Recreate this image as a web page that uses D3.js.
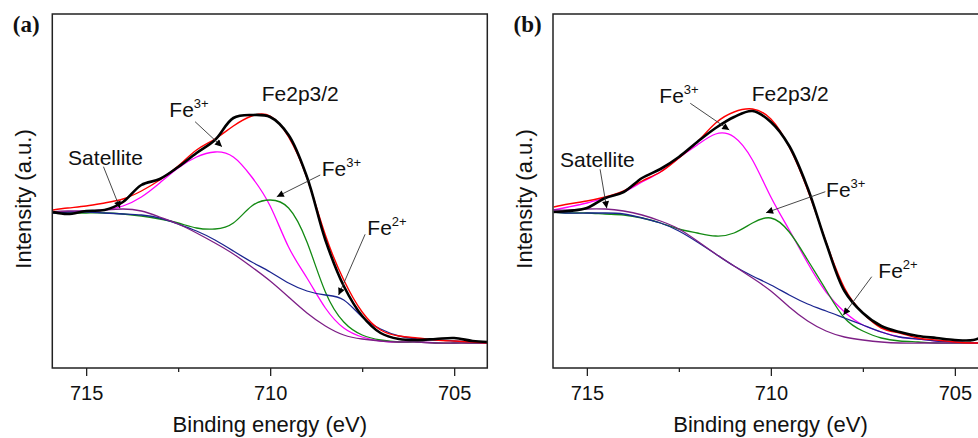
<!DOCTYPE html>
<html>
<head>
<meta charset="utf-8">
<script src="https://cdn.jsdelivr.net/npm/d3@7"></script>
<style>
  body { margin: 0; background: #fff; }
  text { font-family: "Liberation Sans", Arial, sans-serif; fill: #111; }
</style>
</head>
<body>
<script>
// binding energies (eV) the curves were read at
const energy = [715.9, 715.5, 715, 714.5, 714, 713.5, 713, 712.5, 712, 711.5, 711, 710.5, 710,
                709.5, 709, 708.5, 708, 707.5, 707, 706.5, 706, 705.5, 705, 704.5, 704.1];

// panel (a)
const rawA  = [131, 129, 132, 133, 141, 158, 164, 176, 190, 203, 225, 228, 226, 208, 166, 103, 57, 27, 10, 4, 3, 4, 5, 2, 1];
const fitA  = [133, 135, 137, 140, 144, 152, 163, 177, 193, 204, 217, 227, 227, 206, 165, 108, 63, 31, 13, 7, 5, 3, 2, 1, 0];
const fe3aA = [130, 131, 132, 133, 137, 146, 160, 175, 186, 191, 186, 166, 137, 96, 65, 35, 15, 6, 2, 1, 1, 0, 0, 0, 0];
const fe3bA = [130, 130, 130, 130, 129, 127, 124, 120, 115, 114, 120, 137, 143, 135, 101, 51, 21, 8, 3, 1, 1, 0, 0, 0, 0];
const fe2A  = [130, 131, 131, 130, 129, 128, 125, 119, 112, 103, 92, 81, 71, 60, 52, 48, 43, 26, 14, 7, 4, 3, 2, 1, 0];
const satA  = [131, 132, 132, 133, 134, 132, 126, 119, 110, 100, 89, 76, 62, 46, 30, 17, 8, 4, 2, 1, 1, 0, 0, 0, 0];

// panel (b)
const rawB  = [131, 132, 135, 145, 151, 165, 174, 186, 201, 215, 226, 232, 221, 197, 155, 100, 52, 30, 17, 11, 7, 5, 3, 3, 9];
const fitB  = [136, 139, 142, 146, 152, 162, 171, 185, 201, 220, 231, 234, 224, 196, 153, 101, 55, 30, 15, 10, 5, 3, 1, 0, 0];
const fe3aB = [133, 136, 140, 145, 151, 161, 171, 185, 198, 209, 206, 183, 146, 113, 80, 51, 31, 18, 11, 6, 4, 2, 1, 0, 0];
const fe3bB = [131, 130, 130, 129, 128, 125, 120, 114, 110, 107, 110, 120, 125, 111, 83, 53, 25, 12, 5, 2, 1, 0, 0, 0, 0];
const fe2B  = [131, 130, 130, 130, 129, 125, 120, 112, 101, 89, 77, 67, 58, 48, 39, 32, 25, 18, 11, 6, 4, 2, 1, 0, 0];
const satB  = [133, 133, 134, 134, 132, 128, 122, 114, 102, 89, 77, 65, 52, 36, 22, 12, 6, 3, 1, 0, 0, 0, 0, 0, 0];

const majorTicks = [715, 710, 705];
const minorTicks = [712.5, 707.5];

const W = 435, H = 354;
const svg = d3.select("body").append("svg")
  .attr("width", 978)
  .attr("height", 438);

function drawPanel(left, id, label, series, notes) {
  const x = d3.scaleLinear().domain([715.92, 704.1]).range([0, W]);
  const y = d3.scaleLinear().domain([-25, 329]).range([H, 0]);

  const g = svg.append("g").attr("transform", `translate(${left},14)`);

  const defs = g.append("defs");
  defs.append("clipPath").attr("id", "clip" + id)
    .append("rect").attr("width", W).attr("height", H);
  defs.append("marker")
    .attr("id", "arr" + id)
    .attr("viewBox", "0 0 10 10")
    .attr("refX", 10).attr("refY", 5)
    .attr("markerWidth", 9).attr("markerHeight", 7)
    .attr("markerUnits", "userSpaceOnUse")
    .attr("orient", "auto")
    .append("path").attr("d", "M0,0L10,5L0,10Z").attr("fill", "#000");

  // smooth spline for the fitted curves, looser one for the measured trace
  const line = (curve) => d3.line()
    .x((d, i) => x(energy[i]))
    .y(d => y(d))
    .curve(curve);

  const plot = g.append("g").attr("clip-path", `url(#clip${id})`);
  series.forEach(s => {
    const curve = s.raw ? d3.curveCatmullRom.alpha(0.5) : d3.curveNatural;
    plot.append("path")
      .attr("d", line(curve)(s.values))
      .attr("fill", "none")
      .attr("stroke", s.color)
      .attr("stroke-width", s.width)
      .attr("stroke-linejoin", "round");
  });

  // x axis, major + minor ticks
  const ax = g.append("g").attr("transform", `translate(0,${H})`)
    .call(d3.axisBottom(x).tickValues(majorTicks).tickSize(8).tickPadding(10).tickFormat(d3.format("d")));
  ax.select(".domain").remove();
  ax.selectAll("line").attr("stroke", "#222").attr("stroke-width", 1.3);
  ax.selectAll("text").attr("font-size", 20).attr("fill", "#111")
    .style("font-family", "'Liberation Sans', Arial, sans-serif");
  const mx = g.append("g").attr("transform", `translate(0,${H})`)
    .call(d3.axisBottom(x).tickValues(minorTicks).tickSize(4).tickFormat(""));
  mx.select(".domain").remove();
  mx.selectAll("line").attr("stroke", "#222").attr("stroke-width", 1.3);

  g.append("rect")
    .attr("width", W).attr("height", H)
    .attr("fill", "none").attr("stroke", "#222").attr("stroke-width", 1.5);

  g.append("text")
    .attr("x", W / 2).attr("y", 418)
    .attr("text-anchor", "middle")
    .attr("font-size", 22)
    .text("Binding energy (eV)");

  g.append("text")
    .attr("transform", `translate(-29,185) rotate(-90)`)
    .attr("text-anchor", "middle")
    .attr("dominant-baseline", "central")
    .attr("font-size", 22)
    .text("Intensity (a.u.)");

  g.append("text")
    .attr("x", -39.5).attr("y", 18)
    .attr("font-size", 23)
    .attr("font-weight", "bold")
    .style("font-family", "'Liberation Serif', 'Times New Roman', serif")
    .text(label);

  // annotations
  notes.forEach(n => {
    const t = g.append("text")
      .attr("x", x(n.at[0])).attr("y", y(n.at[1]))
      .attr("font-size", 21)
      .text(n.text);
    if (n.sup) {
      t.append("tspan").attr("dy", -9).attr("font-size", 13).text(n.sup);
    }
    if (n.from) {
      g.append("line")
        .attr("x1", x(n.from[0])).attr("y1", y(n.from[1]))
        .attr("x2", x(n.to[0])).attr("y2", y(n.to[1]))
        .attr("stroke", "#333").attr("stroke-width", 0.9)
        .attr("marker-end", `url(#arr${id})`);
    }
  });
}

const styleOf = (values, color, width, raw) => ({ values, color, width, raw });

drawPanel(52.3, "a", "(a)", [
  styleOf(fe3aA, "#ff00ff", 1.3),
  styleOf(fe3bA, "#138a13", 1.3),
  styleOf(fe2A, "#1b2590", 1.3),
  styleOf(satA, "#7d1f86", 1.3),
  styleOf(fitA, "#ff0000", 1.4),
  styleOf(rawA, "#000000", 2.6, true)
], [
  { text: "Fe2p3/2", at: [710.23, 242] },
  { text: "Fe", sup: "3+", at: [712.74, 226], from: [712.04, 221.3], to: [711.31, 196.3] },
  { text: "Satellite", at: [715.49, 178], from: [714.53, 176.3], to: [714.08, 134.7] },
  { text: "Fe", sup: "3+", at: [708.6, 167.3], from: [708.64, 168], to: [709.82, 146.3] },
  { text: "Fe", sup: "2+", at: [707.36, 108], from: [707.42, 108.7], to: [708.14, 48] }
]);

drawPanel(553, "b", "(b)", [
  styleOf(fe3aB, "#ff00ff", 1.3),
  styleOf(fe3bB, "#138a13", 1.3),
  styleOf(fe2B, "#1b2590", 1.3),
  styleOf(satB, "#7d1f86", 1.3),
  styleOf(fitB, "#ff0000", 1.4),
  styleOf(rawB, "#000000", 2.6, true)
], [
  { text: "Fe2p3/2", at: [710.52, 242] },
  { text: "Fe", sup: "3+", at: [713.03, 240], from: [712.19, 239.7], to: [711.13, 213] },
  { text: "Satellite", at: [715.73, 176.3], from: [714.64, 173.7], to: [714.46, 134.7] },
  { text: "Fe", sup: "3+", at: [708.5, 146.3], from: [708.52, 151.3], to: [710.13, 130.3] },
  { text: "Fe", sup: "2+", at: [707.08, 64.7], from: [707.26, 66.3], to: [708.03, 28] }
]);
</script>
</body>
</html>
